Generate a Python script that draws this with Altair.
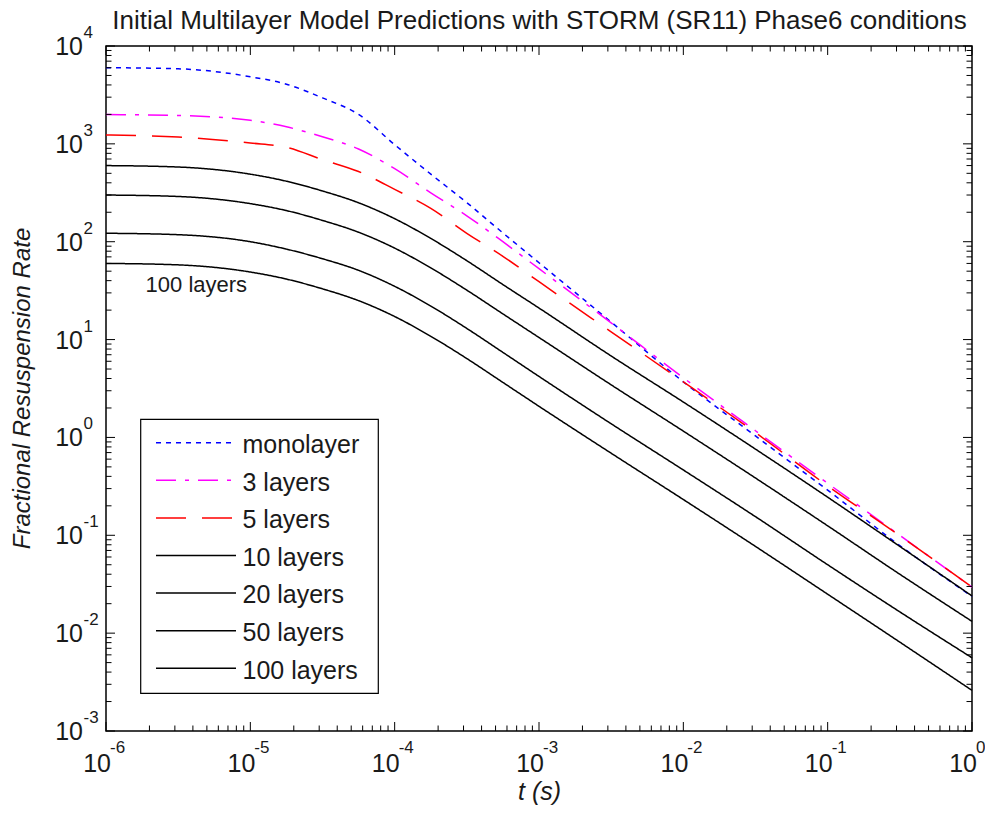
import altair as alt
import pandas as pd

# ---------------- data ----------------
t_vals = [1e-6, 3.16e-6, 1e-5, 1.78e-5, 3.16e-5, 5.62e-5, 1e-4, 1.78e-4, 3.16e-4,
          5.62e-4, 1e-3, 3.16e-3, 1e-2, 3.16e-2, 0.1, 0.316, 1.0]
monolayer = [6000, 5850, 4850, 4070, 2950, 2000, 980, 490, 251, 123, 61, 15.1, 3.7, 1.035, 0.289, 0.0785, 0.0237]
layers3 = [1990, 1950, 1740, 1493, 1183, 887, 557, 316, 184, 100, 53, 14.8, 4.07, 1.17, 0.34, 0.10, 0.0295]
layers5 = [1230, 1175, 1020, 922, 690, 521, 343, 219, 122, 71, 39, 12.0, 3.7, 1.12, 0.32, 0.099, 0.0295]
layers10 = [600, 580, 490, 415, 330, 250, 172, 108, 64, 36.5, 21, 6.8, 2.3, 0.76, 0.245, 0.077, 0.024]
layers20 = [300, 290, 245, 208, 165, 125, 86, 54, 32, 18.3, 10.5, 3.45, 1.16, 0.385, 0.125, 0.04, 0.0132]
layers50 = [122, 118, 100, 84, 67, 51, 35, 22, 13, 7.4, 4.2, 1.38, 0.465, 0.155, 0.05, 0.0165, 0.0056]
layers100 = [60, 58, 49, 41.5, 33, 25, 17.2, 10.8, 6.4, 3.65, 2.08, 0.69, 0.232, 0.077, 0.025, 0.0081, 0.0026]

series_names = ["monolayer", "3 layers", "5 layers", "10 layers", "20 layers", "50 layers", "100 layers"]
series_values = [monolayer, layers3, layers5, layers10, layers20, layers50, layers100]
series_colors = ["#0000FF", "#FF00FF", "#FF0000", "#000000", "#000000", "#000000", "#000000"]
series_dash = [[5, 5], [20, 9, 4, 9], [30, 16], [1, 0], [1, 0], [1, 0], [1, 0]]

x_major = [1e-6, 1e-5, 1e-4, 1e-3, 1e-2, 1e-1, 1.0]
x_exps = ["-6", "-5", "-4", "-3", "-2", "-1", "0"]
y_major = [1e-3, 1e-2, 1e-1, 1.0, 1e1, 1e2, 1e3, 1e4]
y_exps = ["-3", "-2", "-1", "0", "1", "2", "3", "4"]

title_text = "Initial Multilayer Model Predictions with STORM (SR11) Phase6 conditions"
x_title = "t (s)"
y_title = "Fractional Resuspension Rate"
annot_text = "100 layers"
annot_t = 1.88e-6
annot_r = 36.0

# ---------------- layout / style ----------------
W, H = 866, 685
FONT = "Liberation Sans"
TXT = "#1a1a1a"
xs = alt.Scale(type="log", domain=[1e-6, 1.0], nice=False)
ys = alt.Scale(type="log", domain=[1e-3, 1e4], nice=False)

x_minor = [m * d for d in x_major[:-1] for m in range(2, 10)]
y_minor = [m * d for d in y_major[:-1] for m in range(2, 10)]

layers = []

# curves
for name, vals, col, dash in zip(series_names, series_values, series_colors, series_dash):
    df = pd.DataFrame({"t": t_vals, "R": vals, "series": name})
    layers.append(
        alt.Chart(df).mark_line(color=col, strokeDash=dash, strokeWidth=1.5, interpolate="monotone").encode(
            x=alt.X("t:Q", scale=xs, axis=None),
            y=alt.Y("R:Q", scale=ys, axis=None),
        )
    )

# ticks (inward, all four sides)
def xticks(vals, L):
    d = pd.DataFrame({"v": vals})
    b = alt.Chart(d).mark_rule(color="#000", strokeWidth=1).encode(
        x=alt.X("v:Q", scale=xs, axis=None), y=alt.value(H), y2=alt.value(H - L))
    t = alt.Chart(d).mark_rule(color="#000", strokeWidth=1).encode(
        x=alt.X("v:Q", scale=xs, axis=None), y=alt.value(0), y2=alt.value(L))
    return [b, t]

def yticks(vals, L):
    d = pd.DataFrame({"v": vals})
    l = alt.Chart(d).mark_rule(color="#000", strokeWidth=1).encode(
        y=alt.Y("v:Q", scale=ys, axis=None), x=alt.value(0), x2=alt.value(L))
    r = alt.Chart(d).mark_rule(color="#000", strokeWidth=1).encode(
        y=alt.Y("v:Q", scale=ys, axis=None), x=alt.value(W), x2=alt.value(W - L))
    return [l, r]

layers += xticks(x_major, 9) + xticks(x_minor, 5.5) + yticks(y_major, 9) + yticks(y_minor, 5.5)

# tick labels: "10" with superscript exponent
xl = pd.DataFrame({"v": x_major, "b": ["10"] * len(x_major), "e": x_exps})
layers.append(alt.Chart(xl).mark_text(align="right", baseline="alphabetic", font=FONT, fontSize=25, color=TXT, dx=5).encode(
    x=alt.X("v:Q", scale=xs, axis=None), y=alt.value(H + 40.5), text="b:N"))
layers.append(alt.Chart(xl).mark_text(align="left", baseline="alphabetic", font=FONT, fontSize=17, color=TXT, dx=4).encode(
    x=alt.X("v:Q", scale=xs, axis=None), y=alt.value(H + 22), text="e:N"))

yl = pd.DataFrame({"v": y_major, "b": ["10"] * len(y_major), "e": y_exps})
layers.append(alt.Chart(yl).mark_text(align="right", baseline="alphabetic", font=FONT, fontSize=25, color=TXT, dy=9).encode(
    y=alt.Y("v:Q", scale=ys, axis=None), x=alt.value(-23), text="b:N"))
layers.append(alt.Chart(yl).mark_text(align="left", baseline="alphabetic", font=FONT, fontSize=17, color=TXT, dy=-8).encode(
    y=alt.Y("v:Q", scale=ys, axis=None), x=alt.value(-22.5), text="e:N"))

# titles
layers.append(alt.Chart(pd.DataFrame({"s": [title_text]})).mark_text(
    align="center", baseline="alphabetic", font=FONT, fontSize=26, color=TXT).encode(
    x=alt.value(W / 2 + 0.5), y=alt.value(-17), text="s:N"))
layers.append(alt.Chart(pd.DataFrame({"s": [x_title]})).mark_text(
    align="center", baseline="alphabetic", font=FONT, fontSize=25, fontStyle="italic", color=TXT).encode(
    x=alt.value(W / 2 + 0.5), y=alt.value(H + 69), text="s:N"))
layers.append(alt.Chart(pd.DataFrame({"s": [y_title]})).mark_text(
    align="center", baseline="alphabetic", font=FONT, fontSize=24, fontStyle="italic", color=TXT, angle=270).encode(
    x=alt.value(-76.5), y=alt.value(H / 2), text="s:N"))

# annotation
layers.append(alt.Chart(pd.DataFrame({"t": [annot_t], "R": [annot_r], "s": [annot_text]})).mark_text(
    align="left", baseline="middle", font=FONT, fontSize=22, color=TXT).encode(
    x=alt.X("t:Q", scale=xs, axis=None), y=alt.Y("R:Q", scale=ys, axis=None), text="s:N"))

# legend (box, sample lines, labels)
LX0, LX1, LY0, LY1 = 34.7, 272.3, 373.3, 647.3
layers.append(alt.Chart(pd.DataFrame({"a": [0]})).mark_rect(fill="white", stroke="#000", strokeWidth=1.2).encode(
    x=alt.value(LX0), x2=alt.value(LX1), y=alt.value(LY0), y2=alt.value(LY1)))
row0, rstep = 396.7, 37.6
for i, (name, col, dash) in enumerate(zip(series_names, series_colors, series_dash)):
    yy = row0 + rstep * i
    layers.append(alt.Chart(pd.DataFrame({"s": [name]})).mark_rule(color=col, strokeDash=dash, strokeWidth=1.5).encode(
        x=alt.value(50), x2=alt.value(130), y=alt.value(yy)))
    layers.append(alt.Chart(pd.DataFrame({"s": [name]})).mark_text(
        align="left", baseline="alphabetic", font=FONT, fontSize=25, color=TXT).encode(
        x=alt.value(136.5), y=alt.value(yy + 10.3), text="s:N"))

chart = alt.layer(*layers).properties(
    width=W, height=H,
    autosize=alt.AutoSizeParams(type="none"),
    padding={"left": 98, "top": 38, "right": 13, "bottom": 76},
).configure_view(stroke="#000", strokeWidth=1.5)

chart.save("out.html", embed_options={"renderer": "svg", "actions": False})
